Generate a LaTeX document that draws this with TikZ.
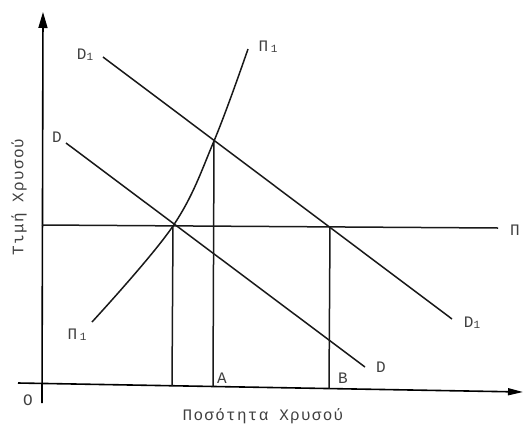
\documentclass[tikz,border=0pt]{standalone}
\usepackage{fontspec}
\setmainfont{Liberation Mono}[LetterSpace=8]
\usetikzlibrary{arrows.meta}
\newcommand{\sbone}{\raisebox{-1pt}{\fontsize{11}{11}\selectfont 1}}
\begin{document}
\begin{tikzpicture}[x=1pt,y=-1pt,
  curve/.style={line width=1.5pt,black!90},
  axisline/.style={line width=1.6pt,black},
  lbl/.style={inner sep=0pt,font=\fontsize{16}{16}\selectfont,text=black!75}]
\useasboundingbox (0,0) rectangle (524,426);
% axes
\coordinate (yb) at (42,403);
\coordinate (yt) at (43,12);
\coordinate (xl) at (18,383);
\coordinate (xr) at (523,392);
\draw[axisline,-{Triangle[length=16pt,width=9pt]}] (yb) -- (yt);
\draw[axisline,-{Triangle[length=15pt,width=7pt]}] (xl) -- (xr);
% key points
\coordinate (E0) at (173,226);
\coordinate (E1) at (214,141);
\coordinate (E2) at (330,227);
\coordinate (P0) at (42,225);
\coordinate (P1) at (498,228);
\coordinate (D1a) at (103,57);
\coordinate (D1b) at (452,319);
\coordinate (Da) at (66,143);
\coordinate (Db) at (365,367);
\coordinate (S0) at (92,322);
\coordinate (S1) at (248,49);
\coordinate (F0) at (172,385.8);
\coordinate (FA) at (213,386.5);
\coordinate (FB) at (329,388.5);
% lines
\draw[curve] (P0) -- (P1);
\draw[curve] (D1a) -- (D1b);
\draw[curve] (Da) -- (Db);
\draw[curve] plot[smooth,tension=0.6] coordinates {(S0) (E0) (E1) (S1)};
\draw[curve] (E0) -- (F0);
\draw[curve] (E1) -- (FA);
\draw[curve] (E2) -- (FB);
% labels
\node[lbl] (lD1t) at (85,55) {D\sbone};
\node[lbl] (lD1b) at (472,323) {D\sbone};
\node[lbl] (lDt) at (57,137) {D};
\node[lbl] (lDb) at (381,367) {D};
\node[lbl] (lS1t) at (268,47) {Π\,\sbone};
\node[lbl] (lS1b) at (77,335) {Π\,\sbone};
\node[lbl] (lP) at (515,230) {Π};
\node[lbl] (lA) at (222,378) {A};
\node[lbl] (lB) at (343,378) {B};
\node[lbl] (lO) at (28,400) {O};
\node[lbl,rotate=90] (ylab) at (19,197) {Τιμή Χρυσού};
\node[lbl] (xlab) at (263,416) {Ποσότητα Χρυσού};
\end{tikzpicture}
\end{document}
